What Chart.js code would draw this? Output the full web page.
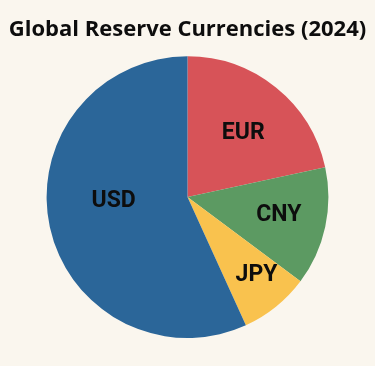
<!DOCTYPE html>
<html>
<head>
<meta charset="utf-8">
<script src="https://cdn.jsdelivr.net/npm/chart.js@4.4.0/dist/chart.umd.min.js"></script>
<style>
  html, body { margin: 0; padding: 0; background: #faf6ee; }
  #wrap { width: 375px; height: 366px; }
</style>
</head>
<body>
<div id="wrap"><canvas id="reserveChart"></canvas></div>
<script>
// Share of global reserves (%)
const currencies = ["EUR", "CNY", "JPY", "USD"];
const shares = [21.6, 13.6, 8.0, 56.8];
const sliceColors = ["#d75358", "#5c9a62", "#f9c24e", "#2b6699"];

// label placement: fraction of radius and angle nudge (deg) per slice
const labelSpots = [
  { r: 0.60, a: 2.4 },
  { r: 0.66, a: -1.2 },
  { r: 0.74, a: -2.6 },
  { r: 0.525, a: 9.1 },
];

const sliceLabels = {
  id: "sliceLabels",
  afterDatasetsDraw(chart) {
    const { ctx } = chart;
    const arcs = chart.getDatasetMeta(0).data;
    ctx.save();
    ctx.font = "bold 23px Roboto, 'DejaVu Sans', sans-serif";
    ctx.fillStyle = "#0d0d0d";
    ctx.textAlign = "center";
    ctx.textBaseline = "middle";
    arcs.forEach((arc, i) => {
      const { x, y, startAngle, endAngle, outerRadius } = arc.getProps(
        ["x", "y", "startAngle", "endAngle", "outerRadius"], true);
      const spot = labelSpots[i];
      const mid = (startAngle + endAngle) / 2 + spot.a * Math.PI / 180;
      const r = outerRadius * spot.r;
      ctx.fillText(currencies[i], x + Math.cos(mid) * r, y + Math.sin(mid) * r);
    });
    ctx.restore();
  },
};

new Chart(document.getElementById("reserveChart"), {
  type: "pie",
  data: {
    labels: currencies,
    datasets: [
      {
        data: shares,
        backgroundColor: sliceColors,
        borderWidth: 0,
      },
    ],
  },
  options: {
    responsive: true,
    maintainAspectRatio: false,
    animation: false,
    layout: { padding: { bottom: 28 } },
    plugins: {
      legend: { display: false },
      tooltip: { enabled: false },
      title: {
        display: true,
        text: "Global Reserve Currencies (2024)",
        color: "#0d0d0d",
        font: { family: "'Open Sans', Roboto, sans-serif", size: 22, weight: "bold", lineHeight: 1.1 },
        padding: { top: 18, bottom: 14 },
      },
    },
  },
  plugins: [sliceLabels],
});
</script>
</body>
</html>
